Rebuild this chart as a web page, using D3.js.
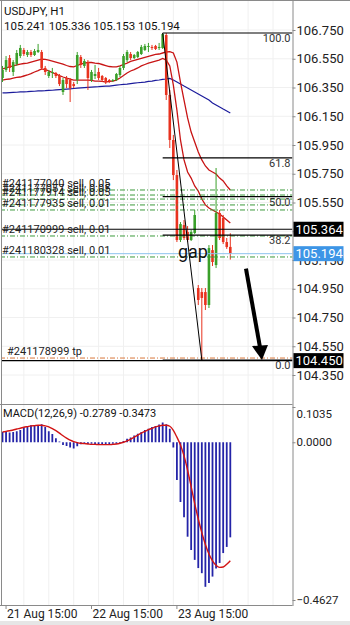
<!doctype html>
<html>
<head>
<meta charset="utf-8">
<script src="https://cdn.jsdelivr.net/npm/d3@7"></script>
<style>
  body { margin: 0; background: #fff; }
  svg { display: block; font-family: Roboto, sans-serif; }
</style>
</head>
<body>
<svg width="350" height="625"></svg>
<script>
// ---- data (USDJPY H1) ----
const opens = [
  106.416, 106.472, 106.555, 106.458, 106.513, 106.569, 106.611, 106.576, 106.597, 106.576,
  106.597, 106.597, 106.486, 106.430, 106.451, 106.451, 106.430, 106.319, 106.416, 106.402,
  106.374, 106.402, 106.562, 106.500, 106.527, 106.402, 106.430, 106.458, 106.430, 106.416,
  106.402, 106.395, 106.402, 106.437, 106.486, 106.541, 106.583, 106.555, 106.562, 106.583,
  106.611, 106.632, 106.632, 106.639, 106.625, 106.625, 106.715, 106.298, 105.985, 105.741,
  105.289, 105.393, 105.345, 105.289, 105.338, 104.955, 104.927, 104.927, 104.837, 105.219,
  105.115, 105.477, 105.442, 105.275, 105.241]
const highs = [
  106.500, 106.569, 106.576, 106.541, 106.611, 106.646, 106.625, 106.611, 106.611, 106.618,
  106.653, 106.611, 106.500, 106.472, 106.486, 106.458, 106.444, 106.416, 106.430, 106.416,
  106.388, 106.597, 106.576, 106.548, 106.541, 106.472, 106.507, 106.486, 106.437, 106.423,
  106.409, 106.409, 106.451, 106.500, 106.583, 106.611, 106.597, 106.583, 106.604, 106.646,
  106.653, 106.660, 106.646, 106.646, 106.660, 106.729, 106.729, 106.333, 106.020, 105.776,
  105.414, 105.428, 105.386, 105.359, 105.498, 104.976, 104.955, 104.955, 105.254, 105.254,
  105.790, 105.498, 105.463, 105.303, 105.336]
const lows = [
  106.388, 106.458, 106.458, 106.430, 106.500, 106.555, 106.569, 106.562, 106.562, 106.569,
  106.590, 106.472, 106.437, 106.416, 106.416, 106.416, 106.360, 106.298, 106.346, 106.249,
  106.346, 106.374, 106.486, 106.486, 106.333, 106.388, 106.409, 106.402, 106.388, 106.374,
  106.381, 106.388, 106.395, 106.423, 106.472, 106.527, 106.541, 106.548, 106.555, 106.576,
  106.604, 106.597, 106.611, 106.611, 106.611, 106.618, 106.263, 105.929, 105.706, 105.275,
  105.275, 105.289, 105.275, 105.282, 105.331, 104.837, 104.454, 104.802, 104.816, 105.108,
  105.094, 105.289, 105.261, 105.227, 105.153]
const closes = [
  106.472, 106.541, 106.486, 106.527, 106.590, 106.625, 106.583, 106.597, 106.576, 106.604,
  106.611, 106.486, 106.458, 106.458, 106.458, 106.430, 106.374, 106.402, 106.374, 106.346,
  106.360, 106.576, 106.507, 106.534, 106.416, 106.458, 106.444, 106.416, 106.402, 106.388,
  106.395, 106.402, 106.444, 106.486, 106.569, 106.597, 106.555, 106.576, 106.597, 106.632,
  106.639, 106.639, 106.625, 106.618, 106.632, 106.722, 106.298, 105.985, 105.741, 105.289,
  105.400, 105.303, 105.289, 105.345, 105.463, 104.872, 104.886, 104.837, 105.233, 105.136,
  105.477, 105.303, 105.275, 105.240, 105.194]

const maSlow = [
  106.479, 106.486, 106.493, 106.500, 106.507, 106.513, 106.517, 106.520, 106.527, 106.534,
  106.541, 106.548, 106.545, 106.541, 106.534, 106.527, 106.520, 106.513, 106.503, 106.496,
  106.493, 106.503, 106.513, 106.520, 106.524, 106.524, 106.520, 106.517, 106.510, 106.503,
  106.496, 106.493, 106.493, 106.500, 106.510, 106.520, 106.531, 106.538, 106.545, 106.552,
  106.559, 106.566, 106.573, 106.580, 106.583, 106.590, 106.597, 106.600, 106.590, 106.527,
  106.388, 106.263, 106.138, 106.040, 105.971, 105.901, 105.846, 105.804, 105.776, 105.762,
  105.748, 105.720, 105.700, 105.665, 105.637]
const maFast = [
  106.402, 106.406, 106.409, 106.416, 106.420, 106.423, 106.430, 106.437, 106.447, 106.458,
  106.468, 106.479, 106.475, 106.465, 106.454, 106.444, 106.433, 106.423, 106.416, 106.409,
  106.402, 106.402, 106.402, 106.402, 106.402, 106.399, 106.395, 106.395, 106.392, 106.388,
  106.392, 106.395, 106.402, 106.416, 106.433, 106.451, 106.465, 106.475, 106.486, 106.500,
  106.510, 106.520, 106.527, 106.534, 106.541, 106.552, 106.541, 106.500, 106.367, 106.193,
  105.985, 105.846, 105.762, 105.720, 105.665, 105.630, 105.574, 105.533, 105.512, 105.498,
  105.484, 105.470, 105.449, 105.428, 105.407]
const maLong = [
  106.312, 106.313, 106.315, 106.316, 106.317, 106.319, 106.320, 106.321, 106.323, 106.324,
  106.326, 106.327, 106.328, 106.330, 106.331, 106.333, 106.335, 106.337, 106.339, 106.341,
  106.343, 106.345, 106.347, 106.349, 106.351, 106.353, 106.355, 106.356, 106.358, 106.359,
  106.360, 106.363, 106.366, 106.369, 106.372, 106.374, 106.377, 106.380, 106.383, 106.385,
  106.388, 106.392, 106.395, 106.399, 106.402, 106.406, 106.409, 106.413, 106.402, 106.388,
  106.374, 106.360, 106.347, 106.333, 106.319, 106.305, 106.291, 106.277, 106.263, 106.242,
  106.228, 106.214, 106.200, 106.187, 106.173]

const macdMain = [
  0.030, 0.030, 0.029, 0.030, 0.032, 0.036, 0.044, 0.048, 0.050, 0.050,
  0.051, 0.053, 0.045, 0.032, 0.024, 0.012, 0.002, -0.008, -0.011, -0.015,
  -0.018, -0.012, -0.006, -0.004, -0.005, -0.004, -0.005, -0.006, -0.005, -0.006,
  -0.005, -0.004, -0.004, -0.002, 0.004, 0.010, 0.014, 0.020, 0.025, 0.030,
  0.036, 0.040, 0.045, 0.048, 0.052, 0.058, 0.053, 0.040, -0.015, -0.111,
  -0.175, -0.220, -0.277, -0.316, -0.345, -0.369, -0.384, -0.424, -0.413, -0.394,
  -0.370, -0.354, -0.325, -0.307, -0.2789]
const macdSignal = [
  0.030, 0.032, 0.034, 0.036, 0.039, 0.041, 0.044, 0.046, 0.048, 0.049,
  0.050, 0.050, 0.048, 0.045, 0.040, 0.034, 0.027, 0.019, 0.012, 0.006,
  0.002, -0.001, -0.003, -0.004, -0.005, -0.006, -0.006, -0.007, -0.007, -0.007,
  -0.007, -0.006, -0.005, -0.003, 0.000, 0.004, 0.009, 0.015, 0.021, 0.027,
  0.032, 0.037, 0.041, 0.045, 0.048, 0.050, 0.050, 0.047, 0.035, 0.015,
  -0.008, -0.040, -0.082, -0.130, -0.180, -0.225, -0.265, -0.300, -0.328, -0.348,
  -0.361, -0.367, -0.366, -0.358, -0.3473]

const priceTicks = [106.75, 106.55, 106.35, 106.15, 105.95, 105.75, 105.55, 105.35, 105.15, 104.95, 104.75, 104.55, 104.35]
const macdTicks = [0.1035, 0, -0.4627]
const dateLabels = ["21 Aug 15:00", "22 Aug 15:00", "23 Aug 15:00"]
const dateBars = [1, 25, 49]

// fibonacci from the spike high to the gap low
const fibLevels = [100, 61.8, 50, 38.2, 0]
const fibHigh = 106.729, fibLow = 104.454
const fibFrom = 45, fibTo = 56

// open orders
const orderPrices = [105.637, 105.602, 105.574, 105.533, 105.498, 105.317, 105.171]
const orderLabels = ["#241177040 sell, 0.05", "#241177057 sell, 0.05", "#241177914 sell, 0.05", "", "#241177935 sell, 0.01", "#241170999 sell, 0.01", "#241180328 sell, 0.01"]
const tpPrice = 104.468, tpLabel = "#241178999 tp"
const hLinePrice = 105.364, lowLinePrice = 104.450, bidPrice = 105.194
const headerText = ["USDJPY, H1", "105.241 105.336 105.153 105.194"]
const macdTitle = "MACD(12,26,9) -0.2789 -0.3473"
// arrow drawn by hand on the screenshot (bar index, price)
const arrowFrom = [68.4, 105.09], arrowTo = [72.9, 104.454]

// ---- layout ----
const svg = d3.select("svg")
const right = 292.5
const x = d3.scaleLinear().domain([0, 64]).range([2.5, 230.3])
const y = d3.scaleLinear().domain([104.35, 106.75]).range([375, 30])
const ym = d3.scaleLinear().domain([-0.4627, 0.1035]).range([600, 407])
const bars = d3.range(opens.length)

const up = "#3aa02a", down = "#e8321e"

svg.append("clipPath").attr("id", "main").append("rect")
  .attr("x", 2).attr("y", 1).attr("width", right - 2).attr("height", 403)
svg.append("clipPath").attr("id", "sub").append("rect")
  .attr("x", 2).attr("y", 406).attr("width", right - 2).attr("height", 199)

// faint grid
const grid = svg.append("g").attr("stroke", "#f0f0f0").attr("stroke-width", 1)
grid.selectAll("line.v").data(d3.range(6, 80, 7)).enter().append("line")
  .attr("x1", d => x(d)).attr("x2", d => x(d)).attr("y1", 1).attr("y2", 605)
grid.selectAll("line.h").data(priceTicks).enter().append("line")
  .attr("x1", 2).attr("x2", right).attr("y1", d => y(d)).attr("y2", d => y(d))

const main = svg.append("g").attr("clip-path", "url(#main)")

// moving averages
const maLine = d3.line().x((d, i) => x(i)).y(d => y(d))
main.append("path").attr("d", maLine(maLong)).attr("fill", "none").attr("stroke", "#1c1c9c").attr("stroke-width", 1.2)
main.append("path").attr("d", maLine(maSlow)).attr("fill", "none").attr("stroke", "#c81414").attr("stroke-width", 1.3)
main.append("path").attr("d", maLine(maFast)).attr("fill", "none").attr("stroke", "#c81414").attr("stroke-width", 1.3)

// candles
const candle = main.append("g").selectAll("g").data(bars).enter().append("g")
candle.append("line")
  .attr("x1", i => x(i)).attr("x2", i => x(i))
  .attr("y1", i => y(highs[i])).attr("y2", i => y(lows[i]))
  .attr("stroke", i => closes[i] >= opens[i] ? up : down).attr("stroke-width", 1)
candle.append("rect")
  .attr("x", i => x(i) - 1.3).attr("width", 2.6)
  .attr("y", i => y(Math.max(opens[i], closes[i])))
  .attr("height", i => Math.max(1, Math.abs(y(opens[i]) - y(closes[i]))))
  .attr("fill", i => closes[i] >= opens[i] ? up : down)

// order lines
main.selectAll("line.order").data(orderPrices).enter().append("line")
  .attr("x1", 0).attr("x2", right).attr("y1", d => y(d)).attr("y2", d => y(d))
  .attr("stroke", "#3c9a3c").attr("stroke-width", 1).attr("stroke-dasharray", "5,2,1,2")
main.append("line").attr("x1", 0).attr("x2", right).attr("y1", y(tpPrice)).attr("y2", y(tpPrice))
  .attr("stroke", "#d8773a").attr("stroke-width", 1).attr("stroke-dasharray", "5,2,1,2")
main.append("line").attr("x1", 0).attr("x2", right).attr("y1", y(bidPrice)).attr("y2", y(bidPrice))
  .attr("stroke", "#8ec3ee").attr("stroke-width", 1)
main.append("line").attr("x1", 0).attr("x2", right).attr("y1", y(hLinePrice)).attr("y2", y(hLinePrice))
  .attr("stroke", "#000").attr("stroke-width", 1.2)
main.append("line").attr("x1", 0).attr("x2", right).attr("y1", y(lowLinePrice)).attr("y2", y(lowLinePrice))
  .attr("stroke", "#000").attr("stroke-width", 1.2)

// fibonacci
const fibPrice = l => fibLow + (fibHigh - fibLow) * l / 100
main.selectAll("line.fib").data(fibLevels).enter().append("line")
  .attr("x1", x(fibFrom)).attr("x2", right)
  .attr("y1", d => y(fibPrice(d))).attr("y2", d => y(fibPrice(d)))
  .attr("stroke", "#000").attr("stroke-width", 1.2)
main.append("line")
  .attr("x1", x(fibFrom)).attr("y1", y(fibHigh)).attr("x2", x(fibTo)).attr("y2", y(fibLow))
  .attr("stroke", "#000").attr("stroke-width", 1)
main.selectAll("text.fib").data(fibLevels).enter().append("text")
  .attr("x", right - 2).attr("y", d => y(fibPrice(d)) + 9)
  .attr("text-anchor", "end").attr("font-size", 11).attr("fill", "#333")
  .text(d => d.toFixed(1))

// order labels (the three 0.05 tickets sit on top of each other, as on the phone)
main.selectAll("text.order").data(orderPrices).enter().append("text")
  .attr("x", 2).attr("y", d => y(d) - 3)
  .attr("font-size", 11).attr("fill", "#222")
  .text((d, i) => orderLabels[i])
main.append("text").attr("x", 7).attr("y", y(tpPrice) - 3)
  .attr("font-size", 11).attr("fill", "#222").text(tpLabel)

// hand annotations
main.append("text").attr("x", x(49) + 1).attr("y", 258)
  .attr("font-size", 18).attr("fill", "#111").text("gap")
const ax0 = x(arrowFrom[0]), ay0 = y(arrowFrom[1]), ax1 = x(arrowTo[0]), ay1 = y(arrowTo[1])
main.append("line").attr("x1", ax0).attr("y1", ay0).attr("x2", ax1 - 2).attr("y2", ay1 - 13)
  .attr("stroke", "#000").attr("stroke-width", 4)
main.append("path")
  .attr("d", `M${ax1 - 10},${ay1 - 14}L${ax1 + 6},${ay1 - 15}L${ax1},${ay1}Z`)
  .attr("fill", "#000")

// header
svg.selectAll("text.head").data(headerText).enter().append("text")
  .attr("x", 4).attr("y", (d, i) => 15 + i * 15)
  .attr("font-size", 11.5).attr("fill", "#111").text(d => d)

// macd panel
const sub = svg.append("g").attr("clip-path", "url(#sub)")
sub.selectAll("line.hist").data(bars).enter().append("line")
  .attr("x1", i => x(i)).attr("x2", i => x(i))
  .attr("y1", ym(0)).attr("y2", i => ym(macdMain[i]))
  .attr("stroke", "#2424a8").attr("stroke-width", 1.8)
sub.append("path")
  .attr("d", d3.line().x((d, i) => x(i)).y(d => ym(d)).curve(d3.curveMonotoneX)(macdSignal))
  .attr("fill", "none").attr("stroke", "#d21414").attr("stroke-width", 1.4)
svg.append("text").attr("x", 3).attr("y", 417).attr("font-size", 11).attr("fill", "#111").text(macdTitle)

// frames
const frame = svg.append("g").attr("stroke", "#8a8a8a").attr("stroke-width", 1).attr("fill", "none")
frame.append("line").attr("x1", 0).attr("x2", 350).attr("y1", 0.5).attr("y2", 0.5)
frame.append("line").attr("x1", 1.5).attr("x2", 1.5).attr("y1", 0).attr("y2", 605.5)
frame.append("line").attr("x1", 0).attr("x2", right).attr("y1", 404.5).attr("y2", 404.5)
frame.append("line").attr("x1", 0).attr("x2", right).attr("y1", 605.5).attr("y2", 605.5)

// price axis (the 105.350 label is covered by the 105.364 tag)
const pAxis = svg.append("g").attr("transform", `translate(${right},0)`)
  .call(d3.axisRight(y).tickValues(priceTicks).tickSize(3).tickPadding(1).tickFormat(d3.format(".3f")))
pAxis.select(".domain").attr("d", "M0.5,0V405").attr("stroke", "#8a8a8a")
pAxis.selectAll("text").attr("font-size", 13).attr("font-family", "Roboto, sans-serif").attr("fill", "#222")
pAxis.selectAll("line").attr("stroke", "#8a8a8a")
pAxis.selectAll(".tick").filter(d => Math.abs(d - hLinePrice) < 0.03).select("text").remove()

const mAxis = svg.append("g").attr("transform", `translate(${right},0)`)
  .call(d3.axisRight(ym).tickValues(macdTicks).tickSize(3).tickPadding(1).tickFormat(d3.format(".4f")))
mAxis.select(".domain").attr("d", "M0.5,405V606").attr("stroke", "#8a8a8a")
mAxis.selectAll("text").attr("font-size", 11.5).attr("font-family", "Roboto, sans-serif").attr("fill", "#222")
mAxis.selectAll("line").attr("stroke", "#8a8a8a")
mAxis.selectAll(".tick").filter(d => d === 0.1035).select("text").attr("dy", "0.9em")

// price tags
const tags = [[hLinePrice, "#000"], [bidPrice, "#3d95e6"], [lowLinePrice, "#000"]]
const tag = svg.selectAll("g.tag").data(tags).enter().append("g")
tag.append("rect").attr("x", right + 1).attr("y", d => y(d[0]) - 7.5)
  .attr("width", 50).attr("height", 15).attr("fill", d => d[1])
tag.append("text").attr("x", right + 3).attr("y", d => y(d[0]) + 4.5)
  .attr("font-size", 13).attr("fill", "#fff").text(d => d[0].toFixed(3))

// time axis
svg.selectAll("text.date").data(dateLabels).enter().append("text")
  .attr("x", (d, i) => x(dateBars[i]) + 1).attr("y", 618)
  .attr("font-size", 12).attr("fill", "#222").text(d => d)
svg.selectAll("line.dtick").data(dateBars).enter().append("line")
  .attr("x1", d => x(d)).attr("x2", d => x(d)).attr("y1", 605).attr("y2", 609)
  .attr("stroke", "#8a8a8a")
svg.append("rect").attr("x", 0).attr("y", 621).attr("width", 350).attr("height", 4).attr("fill", "#e6e6e6")
</script>
</body>
</html>
